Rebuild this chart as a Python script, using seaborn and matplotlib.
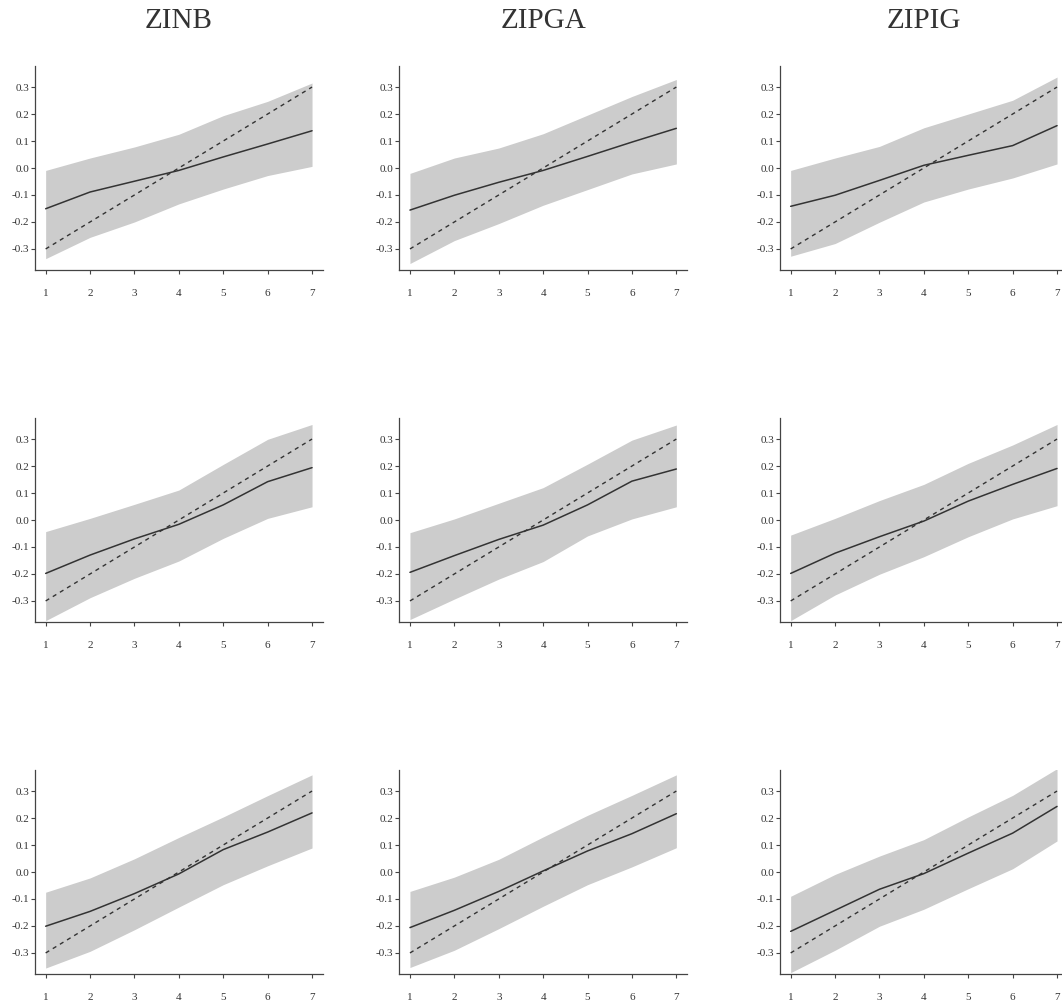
import matplotlib
matplotlib.use("Agg")
import matplotlib.pyplot as plt
import numpy as np
import pandas as pd
import seaborn as sns

# ---------------- data ----------------
models = ["ZINB", "ZIPGA", "ZIPIG"]
x_vals = [1, 2, 3, 4, 5, 6, 7]
true_effect = [-0.3, -0.2, -0.1, 0.0, 0.1, 0.2, 0.3]
y_tick_vals = [-0.3, -0.2, -0.1, 0.0, 0.1, 0.2, 0.3]
y_tick_labels = ["-0.3", "-0.2", "-0.1", "0.0", "0.1", "0.2", "0.3"]
x_tick_labels = ["1", "2", "3", "4", "5", "6", "7"]

# estimated mean (one list per row of the grid)
zinb_mean = [
    [-0.151, -0.089, -0.049, -0.009, 0.041, 0.089, 0.138],
    [-0.198, -0.130, -0.070, -0.016, 0.056, 0.142, 0.194],
    [-0.201, -0.146, -0.080, -0.007, 0.083, 0.148, 0.219],
]
zinb_lower = [
    [-0.336, -0.257, -0.200, -0.133, -0.078, -0.028, 0.006],
    [-0.373, -0.288, -0.216, -0.152, -0.068, 0.006, 0.049],
    [-0.356, -0.294, -0.214, -0.130, -0.047, 0.023, 0.089],
]
zinb_upper = [
    [-0.009, 0.037, 0.078, 0.125, 0.194, 0.247, 0.315],
    [-0.043, 0.006, 0.058, 0.111, 0.206, 0.299, 0.354],
    [-0.075, -0.022, 0.049, 0.128, 0.204, 0.283, 0.360],
]

zipga_mean = [
    [-0.156, -0.101, -0.053, -0.009, 0.043, 0.096, 0.147],
    [-0.194, -0.132, -0.072, -0.019, 0.056, 0.144, 0.189],
    [-0.206, -0.142, -0.072, 0.004, 0.078, 0.142, 0.216],
]
zipga_lower = [
    [-0.354, -0.269, -0.206, -0.138, -0.080, -0.022, 0.015],
    [-0.369, -0.293, -0.219, -0.154, -0.059, 0.004, 0.049],
    [-0.354, -0.290, -0.210, -0.127, -0.047, 0.019, 0.090],
]
zipga_upper = [
    [-0.020, 0.037, 0.074, 0.127, 0.196, 0.265, 0.328],
    [-0.047, 0.004, 0.062, 0.120, 0.207, 0.296, 0.352],
    [-0.072, -0.019, 0.047, 0.130, 0.210, 0.284, 0.360],
]

zipig_mean = [
    [-0.142, -0.101, -0.046, 0.010, 0.047, 0.083, 0.157],
    [-0.198, -0.123, -0.062, -0.004, 0.070, 0.132, 0.191],
    [-0.220, -0.142, -0.064, -0.006, 0.070, 0.144, 0.243],
]
zipig_lower = [
    [-0.327, -0.280, -0.201, -0.126, -0.078, -0.037, 0.015],
    [-0.373, -0.278, -0.201, -0.136, -0.062, 0.004, 0.053],
    [-0.373, -0.290, -0.201, -0.138, -0.062, 0.012, 0.115],
]
zipig_upper = [
    [-0.009, 0.037, 0.080, 0.149, 0.200, 0.251, 0.337],
    [-0.056, 0.006, 0.072, 0.132, 0.210, 0.278, 0.354],
    [-0.090, -0.009, 0.059, 0.120, 0.204, 0.284, 0.383],
]

mean_by_model = [zinb_mean, zipga_mean, zipig_mean]
lower_by_model = [zinb_lower, zipga_lower, zipig_lower]
upper_by_model = [zinb_upper, zipga_upper, zipig_upper]

# ---------------- style ----------------
sns.set_style("ticks")
plt.rcParams["font.family"] = ["Liberation Serif", "DejaVu Serif"]

W, H = 1062, 1006
fig = plt.figure(figsize=(W / 100, H / 100), dpi=100)

col_lefts = [35, 399.3, 780]
row_tops = [66, 418, 770]
ax_w, ax_h = 287.7, 204

line_col = "#333333"
band_col = "#cccccc"

for r in range(3):
    for c in range(3):
        l, t = col_lefts[c], row_tops[r]
        ax = fig.add_axes([l / W, 1 - (t + ax_h) / H, ax_w / W, ax_h / H])
        df = pd.DataFrame({
            "x": x_vals,
            "mean": mean_by_model[c][r],
            "lo": lower_by_model[c][r],
            "hi": upper_by_model[c][r],
            "truth": true_effect,
        })
        ax.fill_between(df["x"], df["lo"], df["hi"], color=band_col, lw=0, zorder=1)
        sns.lineplot(data=df, x="x", y="mean", ax=ax, color=line_col, lw=1.1, zorder=3)
        sns.lineplot(data=df, x="x", y="truth", ax=ax, color=line_col, lw=1.0,
                     linestyle=(0, (3, 3)), zorder=2)
        ax.set_xlim(0.76, 7.24)
        ax.set_ylim(-0.378, 0.378)
        ax.set_xticks(x_vals)
        ax.set_xticklabels(x_tick_labels)
        ax.set_yticks(y_tick_vals)
        ax.set_yticklabels(y_tick_labels)
        ax.set_xlabel("")
        ax.set_ylabel("")
        sns.despine(ax=ax)
        for s in ["left", "bottom"]:
            ax.spines[s].set_linewidth(0.9)
            ax.spines[s].set_color("#444444")
        ax.tick_params(axis="both", length=3.2, width=0.8, color="#444444",
                       labelsize=8, labelcolor="#333333")
        ax.tick_params(axis="x", pad=10.5)
        ax.tick_params(axis="y", pad=1.0)
        if r == 0:
            fig.text((l + ax_w / 2) / W, 1 - 21 / H, models[c], ha="center",
                     va="center", fontsize=21, color="#333333")

fig.savefig("out.png", dpi=100)
